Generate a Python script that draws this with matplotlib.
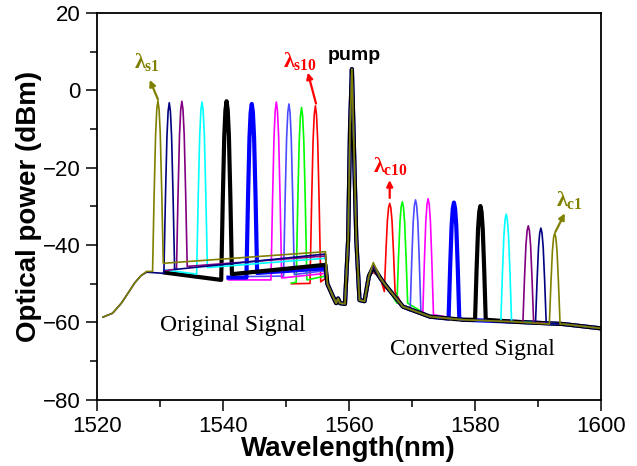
import matplotlib
matplotlib.use('Agg')
import matplotlib.pyplot as plt
from matplotlib.ticker import MultipleLocator

plt.rcParams['font.family'] = 'Liberation Sans'
plt.rcParams['mathtext.fontset'] = 'custom'
plt.rcParams['mathtext.rm'] = 'Liberation Serif:bold'
plt.rcParams['mathtext.it'] = 'Liberation Serif:bold'
plt.rcParams['mathtext.bf'] = 'Liberation Serif:bold'

# ten signal / converted pairs, s1 ... s10
trace_colors = ['#808000', '#000080', '#800080', '#00FFFF', '#000000',
                '#0000FF', '#FF00FF', '#4B4BFF', '#00FF00', '#FF0000']
trace_widths = [1.2, 1.2, 1.2, 1.2, 3.0, 3.0, 1.2, 1.2, 1.2, 1.2]

sig_wl = [1529.7, 1531.5, 1533.5, 1536.7, 1540.6, 1544.6, 1548.5, 1550.5, 1552.5, 1554.7]
sig_dbm = [-2.7, -3.2, -2.8, -3.0, -2.8, -3.5, -3.0, -3.5, -4.4, -4.0]
conv_wl = [1592.7, 1590.5, 1588.5, 1585.0, 1580.9, 1576.7, 1572.6, 1570.6, 1568.5, 1566.5]
conv_dbm = [-36.9, -35.6, -35.0, -32.0, -29.9, -29.0, -28.0, -28.3, -28.8, -29.2]
conv_base = [-60.4, -60.2, -60.0, -59.7, -59.3, -59.0, -58.0, -57.0, -55.0, -52.0]

# signal-band background of each trace
has_ase = [True, True, False, False, False, False, False, False, False, False]
start_wl = [1527.9, 1527.9, 1530.8, 1530.8, 1530.8, 1540.9, 1540.9, 1540.9, 1550.9, 1550.9]
start_dbm = [-46.8, -47.0, -46.6, -46.4, -47.1, -48.4, -49.0, -48.2, -49.8, -50.0]
pre_dbm = [-46.8, -47.3, -46.2, -47.5, -49.0, -48.4, -49.0, -48.0, -49.6, -49.9]
post_dbm = [-44.7, -46.3, -45.5, -45.8, -47.5, -47.2, -48.5, -47.6, -49.0, -49.5]
end_dbm = [-41.7, -42.3, -42.8, -43.4, -45.1, -46.0, -47.3, -46.6, -48.0, -48.6]
bump_dbm = [-44.5, -45.0, -45.3, -45.2, -45.6, -45.8, -46.2, -46.0, -46.6, -47.0]
end_wl = 1556.3

# ASE edge shared by the two traces that start at 1521 nm
ase_wl = [1521.0, 1522.5, 1523.9, 1525.0, 1526.0, 1527.0]
ase_dbm = [-58.6, -57.6, -55.0, -52.3, -49.8, -47.9]

# pump region shared by all traces
pump_wl = [1556.6, 1557.5, 1558.0, 1558.3, 1558.6, 1559.4, 1559.9, 1560.2,
           1560.5, 1560.75, 1561.2, 1561.7, 1562.5, 1563.2]
pump_dbm = [-50.0, -53.3, -55.0, -53.8, -55.0, -55.2, -38.6, -10.0,
            5.5, -10.0, -38.6, -54.2, -54.5, -48.0]
bump_wl = 1563.9

# idler-side tail
tail_wl = [1565.0, 1566.0, 1568.6, 1572.9, 1578.1, 1586.1, 1594.0, 1599.9]
tail_dbm = [-48.5, -50.7, -55.9, -58.5, -59.3, -59.8, -60.4, -61.5]

# peak shape
pk_dx = [-0.85, -0.6, -0.37, -0.18, 0.0, 0.18, 0.37, 0.6, 0.85]
pk_frac = [1.0, 0.55, 0.2, 0.05, 0.0, 0.05, 0.2, 0.55, 1.0]


def build_trace(i):
    wl, db = [], []
    if has_ase[i]:
        wl += ase_wl
        db += ase_dbm
    wl.append(start_wl[i])
    db.append(start_dbm[i])
    for dx, f in zip(pk_dx, pk_frac):
        base = pre_dbm[i] if dx < 0 else post_dbm[i]
        wl.append(sig_wl[i] + dx)
        db.append(sig_dbm[i] - f * (sig_dbm[i] - base))
    wl.append(end_wl)
    db.append(end_dbm[i])
    wl += pump_wl
    db += pump_dbm
    wl.append(bump_wl)
    db.append(bump_dbm[i])
    pts = []
    lo, hi = conv_wl[i] + pk_dx[0], conv_wl[i] + pk_dx[-1]
    for x, y in zip(tail_wl, tail_dbm):
        if x < lo or x > hi:
            pts.append((x, y))
    for dx, f in zip(pk_dx, pk_frac):
        pts.append((conv_wl[i] + dx, conv_dbm[i] - f * (conv_dbm[i] - conv_base[i])))
    pts.sort()
    wl += [p[0] for p in pts]
    db += [p[1] for p in pts]
    return wl, db


fig = plt.figure(figsize=(6.37, 4.66), dpi=100)
ax = fig.add_axes([0.152, 0.142, 0.791, 0.830])

for i in reversed(range(10)):
    x, y = build_trace(i)
    ax.plot(x, y, color=trace_colors[i], lw=trace_widths[i])

ax.set_xlim(1520, 1600)
ax.set_ylim(-80, 20)
ax.xaxis.set_major_locator(MultipleLocator(20))
ax.xaxis.set_minor_locator(MultipleLocator(10))
ax.yaxis.set_major_locator(MultipleLocator(20))
ax.yaxis.set_minor_locator(MultipleLocator(10))
ax.tick_params(which='both', direction='out', top=False, right=False, width=1.1)
ax.tick_params(which='major', length=8, labelsize=16)
ax.tick_params(which='minor', length=5)
ax.tick_params(axis='x', which='major', pad=4)
ax.tick_params(axis='y', which='major', pad=4)
for sp in ax.spines.values():
    sp.set_linewidth(1.3)

ax.set_xlabel('Wavelength(nm)', fontsize=20, fontweight='bold', labelpad=-1)
ax.set_ylabel('Optical power (dBm)', fontsize=20, fontweight='bold', labelpad=0)

# labels and arrows
arrow = dict(arrowstyle='-|>', lw=1.6, mutation_scale=9, shrinkA=0, shrinkB=0)
ax.annotate('', xy=(1528.4, 2.7), xytext=(1529.7, -2.3),
            arrowprops=dict(arrow, color='#808000'))
ax.text(1528.0, 4.5, r'$\lambda_{s1}$', color='#808000', fontsize=16, ha='center', va='bottom')
ax.annotate('', xy=(1553.5, 4.6), xytext=(1554.8, -3.4),
            arrowprops=dict(arrow, color='#FF0000'))
ax.text(1552.3, 4.8, r'$\lambda_{s10}$', color='#FF0000', fontsize=16, ha='center', va='bottom')
ax.text(1560.8, 9.1, 'pump', fontsize=14, fontweight='bold', ha='center', va='center')
ax.annotate('', xy=(1566.5, -23.2), xytext=(1566.5, -27.8),
            arrowprops=dict(arrow, color='#FF0000'))
ax.text(1566.6, -22.5, r'$\lambda_{c10}$', color='#FF0000', fontsize=16, ha='center', va='bottom')
ax.annotate('', xy=(1594.3, -31.8), xytext=(1592.8, -36.6),
            arrowprops=dict(arrow, color='#808000'))
ax.text(1595.0, -31.3, r'$\lambda_{c1}$', color='#808000', fontsize=16, ha='center', va='bottom')

ax.text(1541.6, -60.8, 'Original Signal', family='Liberation Serif', fontsize=17,
        ha='center', va='center')
ax.text(1579.7, -67.0, 'Converted Signal', family='Liberation Serif', fontsize=17,
        ha='center', va='center')

fig.savefig('out.png', dpi=100)
